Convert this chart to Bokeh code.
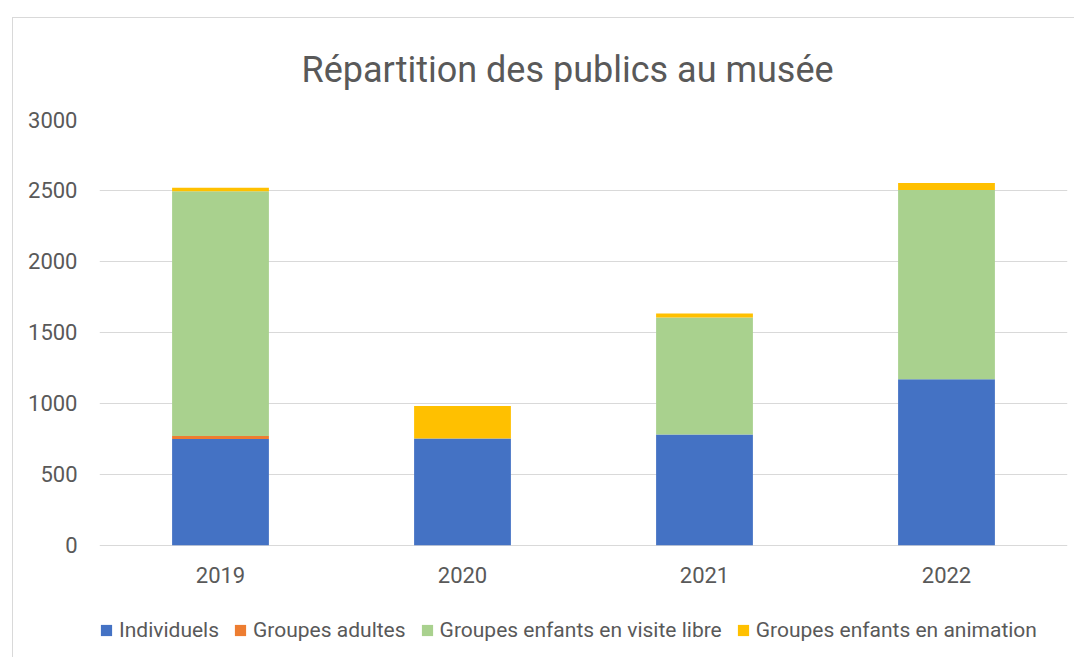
from bokeh.plotting import figure
from bokeh.models import Legend, LegendItem, FixedTicker, Range1d, FactorRange
from bokeh.embed import file_html
from bokeh.resources import INLINE

years = ["2019", "2020", "2021", "2022"]
individuels = [750, 752, 781, 1170]
groupes_adultes = [21, 0, 0, 0]
enfants_libre = [1723, 0, 825, 1333]
enfants_animation = [26, 229, 28, 49]
series_names = ["Individuels", "Groupes adultes", "Groupes enfants en visite libre", "Groupes enfants en animation"]
colors = ["#4472C4", "#ED7D31", "#A9D18E", "#FFC000"]
y_ticks = [0, 500, 1000, 1500, 2000, 2500, 3000]

data = {"years": years, "s0": individuels, "s1": groupes_adultes, "s2": enfants_libre, "s3": enfants_animation}
zeros = [0, 0, 0, 0]

FONT = "Roboto"
GREY = "#595959"

# lower part of the frame (below 0) holds the category labels and the legend
p = figure(x_range=FactorRange(*years, range_padding=0), y_range=Range1d(-797, 3000),
           width=1062, height=640, output_backend="svg", toolbar_location=None,
           min_border_left=86, min_border_right=8, min_border_top=97, min_border_bottom=0)
p.styles = {"margin-left": "12px", "margin-top": "17px",
            "border-left": "1px solid #d9d9d9", "border-top": "1px solid #d9d9d9"}

renderers = p.vbar_stack(["s0", "s1", "s2", "s3"], x="years", width=0.4, color=colors,
                         line_color=None, source=data)

p.text(x=years, y=zeros, text=years, y_offset=30, text_align="center", text_baseline="middle",
       text_font={"value": FONT}, text_font_size="22px", text_color=GREY)

p.title.text = "Répartition des publics au musée"
p.title.align = "left"
p.title.offset = 202
p.title.text_font = FONT
p.title.text_font_style = "normal"
p.title.text_font_size = "36px"
p.title.text_color = GREY
p.title.standoff = 57

p.outline_line_color = None
p.xgrid.grid_line_color = None
p.ygrid.grid_line_color = "#d9d9d9"
p.ygrid.grid_line_width = 1
p.xaxis.visible = False
p.yaxis.ticker = FixedTicker(ticks=y_ticks)
p.yaxis.axis_line_color = None
p.yaxis.major_tick_line_color = None
p.yaxis.minor_tick_line_color = None
p.yaxis.major_label_standoff = 16
p.yaxis.major_label_text_font = FONT
p.yaxis.major_label_text_font_size = "22px"
p.yaxis.major_label_text_color = GREY

items = [LegendItem(label=n, renderers=[r]) for n, r in zip(series_names, renderers)]
legend = Legend(items=items, orientation="horizontal", location=(0, 16),
                label_text_font=FONT, label_text_font_size="21px", label_text_color=GREY,
                glyph_width=14, glyph_height=14, label_standoff=6, spacing=14,
                border_line_color=None, background_fill_alpha=0, margin=0, padding=0)
p.add_layout(legend)

open("out.html", "w").write(file_html(p, INLINE))
